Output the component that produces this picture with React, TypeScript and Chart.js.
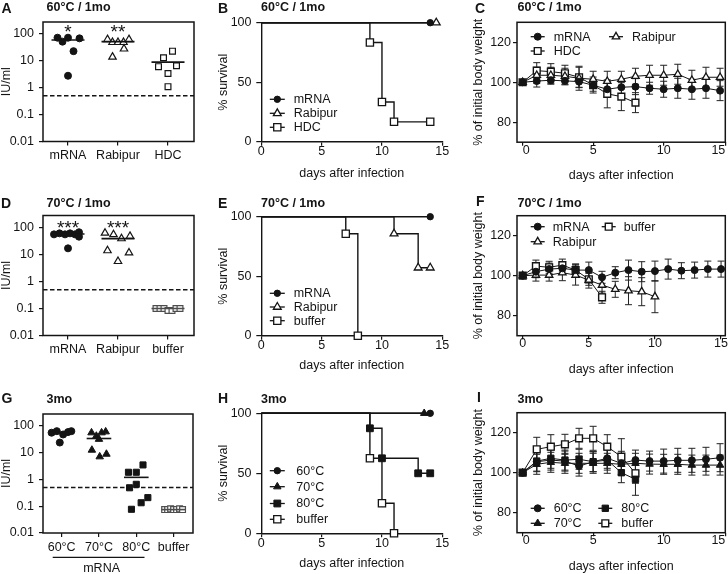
import React, { useEffect, useRef } from "react";
import { Chart, registerables } from "chart.js";

Chart.register(...registerables);

const FONT = "'Liberation Sans', Arial, Helvetica, sans-serif";
const INK = "#141414";
Chart.defaults.font.family = FONT;
Chart.defaults.font.size = 12.5;
Chart.defaults.color = INK;

/* ============================ DATA ============================ */
// Titer panels (IU/ml); *_JIT = horizontal scatter offset from the group centre
const LOG_TICKS = [0.01, 0.1, 1, 10, 100];
const LOG_TICK_LABELS = ["0.01", "0.1", "1", "10", "100"];
const LLOQ = 0.5;

const A_CATS = ["mRNA", "Rabipur", "HDC"];
const A_MRNA = [73, 52, 73, 23, 69, 2.8];
const A_MRNA_JIT = [-0.21, -0.11, 0, 0.11, 0.23, 0];
const A_RABIPUR = [63, 49, 49, 49, 63, 14, 28];
const A_RABIPUR_JIT = [-0.21, -0.11, 0, 0.11, 0.22, -0.11, 0.12];
const A_HDC = [23, 13, 6.1, 3.4, 6.6, 1.1];
const A_HDC_JIT = [0.09, -0.09, -0.19, 0, 0.17, 0];
const A_MEDIANS = [60, 52, 9];
const A_STARS = ["*", "**", ""];

const D_CATS = ["mRNA", "Rabipur", "buffer"];
const D_MRNA = [56, 61, 56, 61, 56, 67, 46, 17];
const D_MRNA_JIT = [-0.28, -0.17, -0.06, 0.04, 0.14, 0.22, 0.22, 0];
const D_RABIPUR = [63, 55, 39, 48, 14, 5.6, 11.6];
const D_RABIPUR_JIT = [-0.26, -0.09, 0.07, 0.24, -0.21, 0, 0.22];
const D_BUFFER = [0.1, 0.1, 0.1, 0.085, 0.085, 0.1, 0.1];
const D_BUFFER_JIT = [-0.24, -0.16, -0.08, 0, 0.08, 0.16, 0.24];
const D_MEDIANS = [58, 39, 0.1];
const D_STARS = ["***", "***", ""];

const G_CATS = ["60°C", "70°C", "80°C", "buffer"];
const G_60 = [56, 64, 48, 59, 64, 24];
const G_60_JIT = [-0.27, -0.13, 0.04, 0.17, 0.26, -0.05];
const G_70 = [56, 42, 56, 61, 32, 12.6, 7.1, 8.9];
const G_70_JIT = [-0.2, -0.07, 0.07, 0.18, 0, -0.19, 0.02, 0.2];
const G_80 = [1.86, 1.86, 3.5, 0.49, 0.66, 0.135, 0.21, 0.077];
const G_80_JIT = [-0.21, 0, 0.18, -0.18, 0, 0.13, 0.31, -0.13];
const G_BUFFER = [0.075, 0.075, 0.08, 0.075, 0.075, 0.08, 0.075];
const G_BUFFER_JIT = [-0.24, -0.16, -0.08, 0, 0.08, 0.16, 0.24];
const G_MEDIANS = [56, 34, 1.2, 0.075];
const G_BRACKET_LABEL = "mRNA";

// Survival panels (% survival vs days)
const SURV_X_TICKS = [0, 5, 10, 15];
const SURV_X_LABELS = ["0", "5", "10", "15"];
const SURV_Y_TICKS = [0, 50, 100];
const SURV_Y_LABELS = ["0", "50", "100"];

const B_MRNA_DAYS = [0, 14];
const B_MRNA = [100, 100];
const B_RABIPUR_DAYS = [0, 14.5];
const B_RABIPUR = [100, 100];
const B_HDC_DAYS = [0, 9, 10, 11, 14];
const B_HDC = [100, 83.3, 33.3, 16.7, 16.7];

const E_MRNA_DAYS = [0, 14];
const E_MRNA = [100, 100];
const E_RABIPUR_DAYS = [0, 11, 13, 14];
const E_RABIPUR = [100, 85.7, 57.1, 57.1];
const E_BUFFER_DAYS = [0, 7, 8];
const E_BUFFER = [100, 85.7, 0];

const H_60_DAYS = [0, 14];
const H_60 = [100, 100];
const H_70_DAYS = [0, 13.5];
const H_70 = [100, 100];
const H_80_DAYS = [0, 9, 10, 13, 14];
const H_80 = [100, 87.5, 62.5, 50, 50];
const H_BUFFER_DAYS = [0, 9, 10, 11];
const H_BUFFER = [100, 62.5, 25, 0];

// Body weight panels (% of initial, mean and SD)
const WEIGHT_X_TICKS = [0, 5, 10, 15];
const WEIGHT_X_LABELS = ["0", "5", "10", "15"];
const WEIGHT_Y_TICKS = [80, 100, 120];
const WEIGHT_Y_LABELS = ["80", "100", "120"];

const DAYS_0_14 = [0, 1, 2, 3, 4, 5, 6, 7, 8, 9, 10, 11, 12, 13, 14];
const DAYS_0_15 = [0, 1, 2, 3, 4, 5, 6, 7, 8, 9, 10, 11, 12, 13, 14, 15];
const DAYS_0_10 = [0, 1, 2, 3, 4, 5, 6, 7, 8, 9, 10];
const DAYS_0_8 = [0, 1, 2, 3, 4, 5, 6, 7, 8];
const DAYS_0_6 = [0, 1, 2, 3, 4, 5, 6];

const C_MRNA = [100, 100.6, 101, 100.7, 100.3, 98.5, 96.5, 97.5, 97.8, 97, 96.5, 97, 96.5, 97, 95.8];
const C_MRNA_SD = [0, 3, 2, 2, 3, 3, 4, 4, 4, 3, 4, 5, 5, 5, 5];
const C_RABIPUR = [100, 103.5, 103.5, 103, 102, 101.5, 100.5, 101.5, 103, 103.5, 103.5, 104, 101, 102.5, 102.5];
const C_RABIPUR_SD = [0, 4, 4, 4, 6, 4, 5, 4, 4, 5, 5, 5, 5, 5, 4.5];
const C_HDC = [100, 105.8, 105.3, 104.5, 102.5, 98.6, 94.2, 92.8, 89.8];
const C_HDC_SD = [0, 4, 4, 4, 5, 4, 7, 7, 5];

const F_MRNA = [100, 102, 103.3, 103.7, 102.8, 102.8, 99.2, 101.5, 102.8, 102, 102.3, 103.3, 102.5, 102.8, 103.3, 103.3];
const F_MRNA_SD = [0, 3, 3, 3, 3, 4, 3, 3, 5, 5, 5, 5, 4, 4, 4, 4];
const F_RABIPUR = [100, 100.3, 100.3, 101.5, 100.3, 97.8, 95.3, 93.2, 92.5, 92, 89.5];
const F_RABIPUR_SD = [0, 3, 3, 4, 5, 4, 4, 4, 7, 7, 8];
const F_BUFFER = [100, 104.8, 104.2, 105.3, 102.8, 98.2, 89.2];
const F_BUFFER_SD = [0, 3, 3, 3, 3, 3, 3];

const I_60 = [100, 105.5, 106.3, 105.8, 103.3, 105.5, 107.2, 104.7, 106.3, 105.8, 105.8, 106.2, 106.2, 106.7, 107.5];
const I_60_SD = [0, 5, 5, 5, 5, 5, 5, 6, 5, 5, 6, 6, 6, 6, 7];
const I_70 = [100, 104.2, 105.2, 104.7, 104.7, 104.7, 104.7, 104.2, 104.7, 104.3, 104.2, 104.2, 103.8, 103.8, 103.8];
const I_70_SD = [0, 5, 5, 5, 5, 5, 5, 5, 5, 5, 5, 5, 5, 5, 5];
const I_80 = [100, 105.8, 107.2, 106.3, 106.7, 105.5, 106.3, 100, 96.7];
const I_80_SD = [0, 5, 5, 5, 5, 5, 5, 5, 8];
const I_BUFFER = [100, 111.7, 113, 114.2, 117.2, 117.2, 113, 108, 99.7];
const I_BUFFER_SD = [0, 6, 6, 5, 5, 6, 6, 9, 5];

/* ============================ STYLE ============================ */
type Sym = { style: string; r: number; fill: string; stroke: string; bw: number };
const mk = (style: string, r: number, filled: boolean, stroke = INK, bw = 1.2): Sym => ({
  style, r, fill: filled ? stroke : "#ffffff", stroke, bw,
});
const GRAY = "#4d4d4d";
const MEDIAN_HALF = 0.33;

type Rect = { x: number; y: number; w: number; h: number };
type Area = { l: number; t: number; r: number; b: number };

const R_A: Rect = { x: 0, y: 0, w: 212, h: 175 };
const R_B: Rect = { x: 210, y: 0, w: 245, h: 190 };
const R_C: Rect = { x: 466, y: 0, w: 262, h: 190 };
const R_D: Rect = { x: 0, y: 190, w: 212, h: 175 };
const R_E: Rect = { x: 210, y: 190, w: 245, h: 190 };
const R_F: Rect = { x: 466, y: 190, w: 262, h: 195 };
const R_G: Rect = { x: 0, y: 385, w: 212, h: 189 };
const R_H: Rect = { x: 210, y: 385, w: 245, h: 189 };
const R_I: Rect = { x: 466, y: 385, w: 262, h: 189 };

const AR_A: Area = { l: 43, t: 22, r: 194, b: 141.5 };
const AR_D: Area = { l: 43, t: 215.5, r: 194, b: 335.5 };
const AR_G: Area = { l: 43, t: 414, r: 193, b: 533 };
const AR_B: Area = { l: 261.3, t: 22.7, r: 442.3, b: 141.7 };
const AR_E: Area = { l: 261.3, t: 216.7, r: 442.3, b: 335.7 };
const AR_H: Area = { l: 261.3, t: 413.3, r: 442.3, b: 533.3 };
const AR_C: Area = { l: 517, t: 22.3, r: 725.3, b: 142.2 };
const AR_F: Area = { l: 517, t: 215.7, r: 725.3, b: 335.7 };
const AR_I: Area = { l: 517, t: 412.7, r: 725.3, b: 532.7 };

/* ============================ PLUGINS ============================ */
function drawSym(ctx: any, s: Sym, x: number, y: number) {
  ctx.beginPath();
  if (s.style === "circle") {
    ctx.arc(x, y, s.r, 0, Math.PI * 2);
  } else if (s.style === "rect") {
    const h = s.r * Math.SQRT1_2;
    ctx.rect(x - h, y - h, 2 * h, 2 * h);
  } else {
    let a = 0;
    ctx.moveTo(x + Math.sin(a) * s.r, y - Math.cos(a) * s.r);
    a += (Math.PI * 2) / 3;
    ctx.lineTo(x + Math.sin(a) * s.r, y - Math.cos(a) * s.r);
    a += (Math.PI * 2) / 3;
    ctx.lineTo(x + Math.sin(a) * s.r, y - Math.cos(a) * s.r);
    ctx.closePath();
  }
  ctx.fillStyle = s.fill;
  ctx.fill();
  ctx.lineWidth = s.bw;
  ctx.strokeStyle = s.stroke;
  ctx.stroke();
}

const framePlugin = {
  id: "frame",
  beforeDatasetsDraw(chart: any) {
    const { ctx, chartArea: a } = chart;
    ctx.save();
    ctx.strokeStyle = INK;
    ctx.lineWidth = 1.5;
    ctx.strokeRect(a.left, a.top, a.right - a.left, a.bottom - a.top);
    ctx.restore();
  },
};

const thresholdPlugin = (value: number) => ({
  id: "threshold",
  beforeDatasetsDraw(chart: any) {
    const { ctx, chartArea: a, scales } = chart;
    const y = scales.y.getPixelForValue(value);
    ctx.save();
    ctx.setLineDash([4.5, 2.5]);
    ctx.lineWidth = 1.5;
    ctx.strokeStyle = INK;
    ctx.beginPath();
    ctx.moveTo(a.left, y);
    ctx.lineTo(a.right, y);
    ctx.stroke();
    ctx.restore();
  },
});

const starsPlugin = (stars: string[], topOffset: number, size: number) => ({
  id: "stars",
  afterDatasetsDraw(chart: any) {
    const { ctx, chartArea: a, scales } = chart;
    ctx.save();
    ctx.font = `${size}px ${FONT}`;
    ctx.fillStyle = INK;
    ctx.textAlign = "center";
    ctx.textBaseline = "alphabetic";
    stars.forEach((t, i) => {
      if (!t) return;
      ctx.fillText(t, scales.x.getPixelForValue(i), a.top + topOffset + 0.58 * size);
    });
    ctx.restore();
  },
});

const bracketPlugin = (from: number, to: number, label: string) => ({
  id: "bracket",
  afterDraw(chart: any) {
    const { ctx, chartArea: a, scales } = chart;
    const x1 = scales.x.getPixelForValue(from - 0.24);
    const x2 = scales.x.getPixelForValue(to + 0.22);
    const y = a.bottom + 24.3;
    ctx.save();
    ctx.strokeStyle = INK;
    ctx.lineWidth = 1.3;
    ctx.beginPath();
    ctx.moveTo(x1, y);
    ctx.lineTo(x2, y);
    ctx.stroke();
    ctx.font = `12.5px ${FONT}`;
    ctx.fillStyle = INK;
    ctx.textAlign = "center";
    ctx.textBaseline = "middle";
    ctx.fillText(label, (x1 + x2) / 2 + 3, a.bottom + 36);
    ctx.restore();
  },
});

const errorBarPlugin = {
  id: "errbars",
  beforeDatasetsDraw(chart: any) {
    const { ctx, scales } = chart;
    ctx.save();
    ctx.strokeStyle = "#222222";
    ctx.lineWidth = 1;
    chart.data.datasets.forEach((ds: any) => {
      if (!ds.errorBars) return;
      ds.data.forEach((p: any, i: number) => {
        const e = ds.errorBars[i];
        if (!e) return;
        const x = scales.x.getPixelForValue(p.x);
        const y1 = scales.y.getPixelForValue(p.y - e);
        const y2 = scales.y.getPixelForValue(p.y + e);
        ctx.beginPath();
        ctx.moveTo(x, y1);
        ctx.lineTo(x, y2);
        ctx.moveTo(x - 3.5, y1);
        ctx.lineTo(x + 3.5, y1);
        ctx.moveTo(x - 3.5, y2);
        ctx.lineTo(x + 3.5, y2);
        ctx.stroke();
      });
    });
    ctx.restore();
  },
};

type LegendItem = { label: string; sym: Sym; col: number; row: number };
const legendPlugin = (cfg: { cols: number[]; rows: number[]; textDx: number; half: number; items: LegendItem[] }) => ({
  id: "mlegend",
  afterDraw(chart: any) {
    const { ctx, chartArea: a } = chart;
    ctx.save();
    ctx.font = `12.5px ${FONT}`;
    ctx.textBaseline = "middle";
    ctx.textAlign = "left";
    cfg.items.forEach((it) => {
      const mx = a.left + cfg.cols[it.col];
      const my = a.top + cfg.rows[it.row];
      ctx.strokeStyle = INK;
      ctx.lineWidth = 1.3;
      ctx.beginPath();
      ctx.moveTo(mx - cfg.half, my);
      ctx.lineTo(mx + cfg.half, my);
      ctx.stroke();
      drawSym(ctx, it.sym, mx, my);
      ctx.fillStyle = INK;
      ctx.fillText(it.label, mx + cfg.textDx, my + 0.5);
    });
    ctx.restore();
  },
});

/* ============================ AXES ============================ */
function xAxis(rect: Rect, area: Area, o: any) {
  return {
    type: o.type || "linear",
    min: o.min,
    max: o.max,
    afterBuildTicks: (s: any) => {
      s.ticks = o.ticks.map((v: number) => ({ value: Math.min(v, s.max) }));
    },
    afterFit: (s: any) => {
      s.height = rect.y + rect.h - area.b;
      s.paddingLeft = 0;
      s.paddingRight = 0;
    },
    ticks: {
      autoSkip: false,
      maxRotation: 0,
      minRotation: 0,
      padding: o.pad,
      align: o.align || "center",
      color: INK,
      font: { size: 12.5, lineHeight: 1 },
      callback: (_v: any, i: number) => o.labels[i],
    },
    grid: { display: true, drawOnChartArea: false, drawTicks: true, tickLength: o.tickLen, color: INK, lineWidth: 1.2 },
    border: { display: !!o.axisLine, color: INK, width: 1.4 },
    title: o.title
      ? {
          display: true,
          text: o.title,
          color: INK,
          font: { size: 12.5, lineHeight: 1 },
          padding: { top: 0, bottom: rect.y + rect.h - o.titleCenter - 6.25 },
        }
      : { display: false },
  };
}

function yAxis(rect: Rect, area: Area, o: any) {
  return {
    type: o.type || "linear",
    min: o.min,
    max: o.max,
    afterBuildTicks: (s: any) => {
      s.ticks = o.ticks.map((v: number) => ({ value: v }));
    },
    afterFit: (s: any) => {
      s.width = area.l - rect.x;
      s.paddingTop = 0;
      s.paddingBottom = 0;
    },
    ticks: {
      autoSkip: false,
      padding: o.pad,
      color: INK,
      font: { size: 12.5, lineHeight: 1 },
      callback: (_v: any, i: number) => o.labels[i],
    },
    grid: { display: true, drawOnChartArea: false, drawTicks: true, tickLength: o.tickLen, color: INK, lineWidth: 1.2 },
    border: { display: !!o.axisLine, color: INK, width: 1.4 },
    title: {
      display: true,
      text: o.title,
      color: INK,
      font: { size: 12.5, lineHeight: 1 },
      padding: { top: o.titleCenter - rect.x - 6.25, bottom: 0 },
    },
  };
}

function baseOptions(rect: Rect, area: Area, x: any, y: any) {
  return {
    responsive: false,
    maintainAspectRatio: false,
    animation: false,
    events: [],
    layout: {
      autoPadding: false,
      padding: { left: 0, top: area.t - rect.y, right: rect.x + rect.w - area.r, bottom: 0 },
    },
    plugins: { legend: { display: false }, tooltip: { enabled: false }, title: { display: false } },
    scales: { x, y },
  };
}

/* ============================ CHART BUILDERS ============================ */
function titerChart(rect: Rect, area: Area, cats: string[], groups: any[], medians: number[], stars: string[], starTop: number) {
  const datasets: any[] = [];
  medians.forEach((m, i) => {
    datasets.push({
      data: [
        { x: i - MEDIAN_HALF, y: m },
        { x: i + MEDIAN_HALF, y: m },
      ],
      showLine: true,
      borderColor: groups[i].lineColor || INK,
      borderWidth: 1.6,
      pointRadius: 0,
      clip: false,
    });
  });
  groups.forEach((g, i) => {
    datasets.push({
      data: g.vals.map((v: number, k: number) => ({ x: i + g.jit[k], y: v })),
      showLine: false,
      pointStyle: g.sym.style,
      pointRadius: g.sym.r,
      pointBackgroundColor: g.sym.fill,
      pointBorderColor: g.sym.stroke,
      pointBorderWidth: g.sym.bw,
      clip: false,
    });
  });
  const options = baseOptions(
    rect,
    area,
    xAxis(rect, area, { min: -0.5, max: cats.length - 0.48, ticks: cats.map((_c, i) => i), labels: cats, tickLen: 4, pad: 4, axisLine: false }),
    yAxis(rect, area, { type: "logarithmic", min: 0.01, max: 280, ticks: LOG_TICKS, labels: LOG_TICK_LABELS, tickLen: 4, pad: 5, axisLine: false, title: "IU/ml", titleCenter: 6.7 })
  );
  const plugins: any[] = [framePlugin, thresholdPlugin(LLOQ), starsPlugin(stars, starTop, 19)];
  return { type: "line", data: { datasets }, options, plugins };
}

function survSet(days: number[], vals: number[], s: Sym) {
  return {
    data: days.map((d, i) => ({ x: d, y: vals[i] })),
    showLine: true,
    stepped: "before",
    borderColor: INK,
    borderWidth: 1.4,
    pointStyle: s.style,
    pointRadius: days.map((_d, i) => (i === 0 ? 0 : s.r)),
    pointBackgroundColor: s.fill,
    pointBorderColor: s.stroke,
    pointBorderWidth: s.bw,
    clip: false,
  };
}

function survivalChart(rect: Rect, area: Area, sets: any[], legend: any, xTitleCenter: number) {
  const options = baseOptions(
    rect,
    area,
    xAxis(rect, area, { min: 0, max: 15, ticks: SURV_X_TICKS, labels: SURV_X_LABELS, tickLen: 4, pad: 0, axisLine: true, title: "days after infection", titleCenter: xTitleCenter }),
    yAxis(rect, area, { min: 0, max: 100, ticks: SURV_Y_TICKS, labels: SURV_Y_LABELS, tickLen: 5, pad: 4.8, axisLine: true, title: "% survival", titleCenter: 224 })
  );
  return { type: "line", data: { datasets: sets }, options, plugins: [legendPlugin(legend)] };
}

function weightSet(days: number[], vals: number[], sd: number[], s: Sym) {
  return {
    data: days.map((d, i) => ({ x: d, y: vals[i] })),
    errorBars: sd,
    showLine: true,
    borderColor: INK,
    borderWidth: 1,
    pointStyle: s.style,
    pointRadius: s.r,
    pointBackgroundColor: s.fill,
    pointBorderColor: s.stroke,
    pointBorderWidth: s.bw,
    clip: false,
  };
}

function weightChart(rect: Rect, area: Area, sets: any[], legend: any, xmin: number, xmax: number, align: string) {
  const options = baseOptions(
    rect,
    area,
    xAxis(rect, area, { min: xmin, max: xmax, ticks: WEIGHT_X_TICKS, labels: WEIGHT_X_LABELS, tickLen: 3.5, pad: -1.5, align, axisLine: false, title: "days after infection", titleCenter: area.b + 33.5 }),
    yAxis(rect, area, { min: 70, max: 130, ticks: WEIGHT_Y_TICKS, labels: WEIGHT_Y_LABELS, tickLen: 4, pad: 2, axisLine: false, title: "% of initial body weight", titleCenter: 479 })
  );
  return { type: "line", data: { datasets: sets }, options, plugins: [framePlugin, errorBarPlugin, legendPlugin(legend)] };
}

/* ---------- symbols ---------- */
const T_CIRC = mk("circle", 3.5, true, INK, 1);
const T_TRI = mk("triangle", 4.3, false);
const T_SQ = mk("rect", 4.1, false);
const T_SQ_GRAY = mk("rect", 4.1, false, GRAY, 1.2);
const T_TRI_F = mk("triangle", 4.3, true, INK, 1);
const T_SQ_F = mk("rect", 4.3, true, INK, 1);

const S_CIRC = mk("circle", 3.2, true, INK, 1);
const S_TRI = mk("triangle", 4.5, false, INK, 1.3);
const S_SQ = mk("rect", 5.1, false, INK, 1.3);
const S_TRI_F = mk("triangle", 4.3, true, INK, 1);
const S_SQ_F = mk("rect", 4.8, true, INK, 1);

const W_CIRC = mk("circle", 3.5, true, INK, 1);
const W_TRI = mk("triangle", 4.3, false, INK, 1.3);
const W_SQ = mk("rect", 4.8, false, INK, 1.4);
const W_TRI_F = mk("triangle", 4.3, true, INK, 1);
const W_SQ_F = mk("rect", 4.5, true, INK, 1);

/* ---------- panels ---------- */
const buildA = () =>
  titerChart(R_A, AR_A, A_CATS, [
    { vals: A_MRNA, jit: A_MRNA_JIT, sym: T_CIRC },
    { vals: A_RABIPUR, jit: A_RABIPUR_JIT, sym: T_TRI },
    { vals: A_HDC, jit: A_HDC_JIT, sym: T_SQ },
  ], A_MEDIANS, A_STARS, 4.5);

const buildD = () =>
  titerChart(R_D, AR_D, D_CATS, [
    { vals: D_MRNA, jit: D_MRNA_JIT, sym: T_CIRC },
    { vals: D_RABIPUR, jit: D_RABIPUR_JIT, sym: T_TRI },
    { vals: D_BUFFER, jit: D_BUFFER_JIT, sym: T_SQ_GRAY, lineColor: GRAY },
  ], D_MEDIANS, D_STARS, 7.5);

const buildG = () => {
  const cfg: any = titerChart(R_G, AR_G, G_CATS, [
    { vals: G_60, jit: G_60_JIT, sym: T_CIRC },
    { vals: G_70, jit: G_70_JIT, sym: T_TRI_F },
    { vals: G_80, jit: G_80_JIT, sym: T_SQ_F },
    { vals: G_BUFFER, jit: G_BUFFER_JIT, sym: T_SQ_GRAY, lineColor: GRAY },
  ], G_MEDIANS, ["", "", "", ""], 5);
  cfg.plugins.push(bracketPlugin(0, 2, G_BRACKET_LABEL));
  return cfg;
};

const buildB = () =>
  survivalChart(R_B, AR_B, [
    survSet(B_MRNA_DAYS, B_MRNA, S_CIRC),
    survSet(B_RABIPUR_DAYS, B_RABIPUR, S_TRI),
    survSet(B_HDC_DAYS, B_HDC, S_SQ),
  ], {
    cols: [16], rows: [76.6, 90.6, 104.6], textDx: 16.4, half: 7.5,
    items: [
      { label: "mRNA", sym: S_CIRC, col: 0, row: 0 },
      { label: "Rabipur", sym: S_TRI, col: 0, row: 1 },
      { label: "HDC", sym: S_SQ, col: 0, row: 2 },
    ],
  }, 174);

const buildE = () =>
  survivalChart(R_E, AR_E, [
    survSet(E_MRNA_DAYS, E_MRNA, S_CIRC),
    survSet(E_RABIPUR_DAYS, E_RABIPUR, S_TRI),
    survSet(E_BUFFER_DAYS, E_BUFFER, S_SQ),
  ], {
    cols: [16], rows: [76.6, 90.3, 104], textDx: 16.4, half: 7.5,
    items: [
      { label: "mRNA", sym: S_CIRC, col: 0, row: 0 },
      { label: "Rabipur", sym: S_TRI, col: 0, row: 1 },
      { label: "buffer", sym: S_SQ, col: 0, row: 2 },
    ],
  }, 366);

const buildH = () =>
  survivalChart(R_H, AR_H, [
    survSet(H_60_DAYS, H_60, S_CIRC),
    survSet(H_70_DAYS, H_70, S_TRI_F),
    survSet(H_80_DAYS, H_80, S_SQ_F),
    survSet(H_BUFFER_DAYS, H_BUFFER, S_SQ),
  ], {
    cols: [16], rows: [57.4, 73.4, 90.2, 106], textDx: 19, half: 7.5,
    items: [
      { label: "60°C", sym: S_CIRC, col: 0, row: 0 },
      { label: "70°C", sym: S_TRI_F, col: 0, row: 1 },
      { label: "80°C", sym: S_SQ_F, col: 0, row: 2 },
      { label: "buffer", sym: S_SQ, col: 0, row: 3 },
    ],
  }, 563.3);

const buildC = () =>
  weightChart(R_C, AR_C, [
    weightSet(DAYS_0_14, C_MRNA, C_MRNA_SD, W_CIRC),
    weightSet(DAYS_0_14, C_RABIPUR, C_RABIPUR_SD, W_TRI),
    weightSet(DAYS_0_8, C_HDC, C_HDC_SD, W_SQ),
  ], {
    cols: [20.7, 99], rows: [14.4, 28.7], textDx: 16, half: 7,
    items: [
      { label: "mRNA", sym: W_CIRC, col: 0, row: 0 },
      { label: "Rabipur", sym: W_TRI, col: 1, row: 0 },
      { label: "HDC", sym: W_SQ, col: 0, row: 1 },
    ],
  }, -0.4, 14.37, "inner");

const buildF = () =>
  weightChart(R_F, AR_F, [
    weightSet(DAYS_0_15, F_MRNA, F_MRNA_SD, W_CIRC),
    weightSet(DAYS_0_10, F_RABIPUR, F_RABIPUR_SD, W_TRI),
    weightSet(DAYS_0_6, F_BUFFER, F_BUFFER_SD, W_SQ),
  ], {
    cols: [20.7, 91.7], rows: [11, 26], textDx: 15, half: 7,
    items: [
      { label: "mRNA", sym: W_CIRC, col: 0, row: 0 },
      { label: "buffer", sym: W_SQ, col: 1, row: 0 },
      { label: "Rabipur", sym: W_TRI, col: 0, row: 1 },
    ],
  }, -0.43, 15.32, "center");

const buildI = () =>
  weightChart(R_I, AR_I, [
    weightSet(DAYS_0_14, I_60, I_60_SD, W_CIRC),
    weightSet(DAYS_0_14, I_70, I_70_SD, W_TRI_F),
    weightSet(DAYS_0_8, I_80, I_80_SD, W_SQ_F),
    weightSet(DAYS_0_8, I_BUFFER, I_BUFFER_SD, W_SQ),
  ], {
    cols: [20.7, 88.3], rows: [95.6, 110.6], textDx: 16, half: 7,
    items: [
      { label: "60°C", sym: W_CIRC, col: 0, row: 0 },
      { label: "70°C", sym: W_TRI_F, col: 0, row: 1 },
      { label: "80°C", sym: W_SQ_F, col: 1, row: 0 },
      { label: "buffer", sym: W_SQ, col: 1, row: 1 },
    ],
  }, -0.4, 14.37, "inner");

const PANELS: { rect: Rect; build: () => any }[] = [
  { rect: R_A, build: buildA },
  { rect: R_B, build: buildB },
  { rect: R_C, build: buildC },
  { rect: R_D, build: buildD },
  { rect: R_E, build: buildE },
  { rect: R_F, build: buildF },
  { rect: R_G, build: buildG },
  { rect: R_H, build: buildH },
  { rect: R_I, build: buildI },
];

const LETTERS = [
  { t: "A", x: 1.5, y: 0.7 },
  { t: "B", x: 218, y: 0.9 },
  { t: "C", x: 475, y: 1.2 },
  { t: "D", x: 1, y: 196.2 },
  { t: "E", x: 218, y: 196.2 },
  { t: "F", x: 476, y: 194.2 },
  { t: "G", x: 1.5, y: 391.2 },
  { t: "H", x: 218, y: 391.2 },
  { t: "I", x: 477, y: 390.2 },
];

const TITLES = [
  { t: "60°C / 1mo", x: 46.5, y: 0.9 },
  { t: "60°C / 1mo", x: 261, y: 0.9 },
  { t: "60°C / 1mo", x: 517.5, y: 0.9 },
  { t: "70°C / 1mo", x: 46.5, y: 197.4 },
  { t: "70°C / 1mo", x: 261, y: 197.4 },
  { t: "70°C / 1mo", x: 517.5, y: 197.2 },
  { t: "3mo", x: 46.5, y: 392.9 },
  { t: "3mo", x: 261, y: 392.9 },
  { t: "3mo", x: 517.5, y: 392.9 },
];

function ChartCanvas({ rect, build }: { rect: Rect; build: () => any }) {
  const ref = useRef<HTMLCanvasElement>(null);
  useEffect(() => {
    const chart = new Chart(ref.current as HTMLCanvasElement, build());
    return () => chart.destroy();
  }, []);
  return (
    <canvas
      ref={ref}
      width={rect.w}
      height={rect.h}
      style={{ position: "absolute", left: rect.x, top: rect.y, width: rect.w, height: rect.h }}
    />
  );
}

export default function App() {
  return (
    <div
      style={{
        position: "fixed",
        left: 0,
        top: 0,
        width: 728,
        height: 574,
        overflow: "hidden",
        background: "#ffffff",
        fontFamily: FONT,
        color: INK,
      }}
    >
      {PANELS.map((p, i) => (
        <ChartCanvas key={i} rect={p.rect} build={p.build} />
      ))}
      {LETTERS.map((l, i) => (
        <div
          key={"l" + i}
          style={{ position: "absolute", left: l.x, top: l.y, fontSize: 14, lineHeight: "14px", fontWeight: 700, whiteSpace: "nowrap" }}
        >
          {l.t}
        </div>
      ))}
      {TITLES.map((l, i) => (
        <div
          key={"t" + i}
          style={{ position: "absolute", left: l.x, top: l.y, fontSize: 12.5, lineHeight: "12.5px", fontWeight: 700, whiteSpace: "nowrap" }}
        >
          {l.t}
        </div>
      ))}
    </div>
  );
}
